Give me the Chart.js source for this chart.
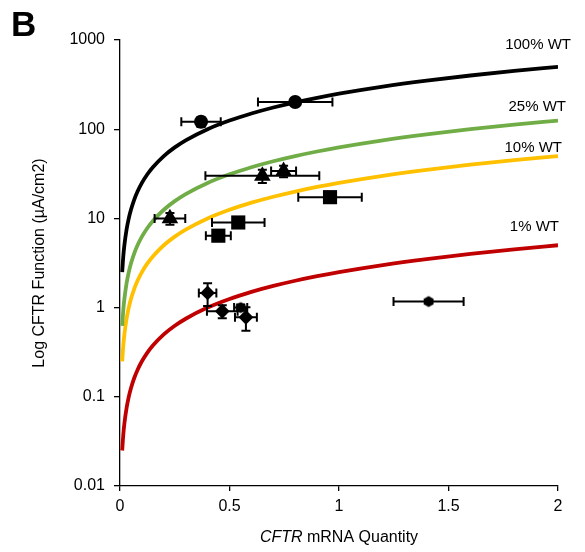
<!DOCTYPE html>
<html>
<head>
<meta charset="utf-8">
<script src="https://cdn.jsdelivr.net/npm/chart.js@4/dist/chart.umd.min.js"></script>
<style>
  html, body { margin: 0; padding: 0; background: #fff; }
  #wrap { width: 585px; height: 552px; }
</style>
</head>
<body>
<div id="wrap"><canvas id="c" width="585" height="552"></canvas></div>
<script>
// Measured groups: x = CFTR mRNA quantity, y = CFTR function (µA/cm2), with ± errors
const circleX = [0.37, 0.80];
const circleY = [121, 202];
const circleXErr = [0.09, 0.17];
const circleYErr = [15, 10];

const triangleX = [0.228, 0.65, 0.747];
const triangleY = [10.0, 30, 34];
const triangleXErr = [0.07, 0.26, 0.057];
const triangleYErr = [1.5, 5, 5];

const squareX = [0.959, 0.540, 0.449];
const squareY = [17.3, 9.0, 6.4];
const squareXErr = [0.145, 0.12, 0.057];
const squareYErr = [1.0, 0.6, 0.5];

const diamondX = [0.40, 0.467, 0.575];
const diamondY = [1.46, 0.91, 0.78];
const diamondXErr = [0.04, 0.07, 0.05];
const diamondYErr = [0.42, 0.15, 0.23];

const hexX = [0.551, 1.409];
const hexY = [1.0, 1.17];
const hexXErr = [0.03, 0.16];
const hexYErr = [0.08, 0.05];

// Reference lines: function proportional to mRNA, at a fraction of wild type
const wtFullSlope = 250;
const wtFractions = [1, 0.25, 0.1, 0.01];
const wtLabels = ['100% WT', '25% WT', '10% WT', '1% WT'];
const curveSampleX = [0.01, 0.015, 0.02, 0.03, 0.04, 0.05, 0.065, 0.08, 0.1, 0.125, 0.15,
  0.2, 0.25, 0.3, 0.4, 0.5, 0.6, 0.7, 0.8, 0.9, 1.0, 1.2, 1.4, 1.6, 1.8, 2.0];

// Axis ticks
const xTickValues = [0, 0.5, 1, 1.5, 2];
const xTickLabels = ['0', '0.5', '1', '1.5', '2'];
const yTickValues = [0.01, 0.1, 1, 10, 100, 1000];
const yTickLabels = ['0.01', '0.1', '1', '10', '100', '1000'];

const FONT = '"Liberation Sans", Arial, sans-serif';
const curveColors = ['#000000', '#70AD47', '#FFC000', '#C00000'];
// label anchor offsets from each line's right end (px)
const labelOffsets = [[13, -22], [8, -14], [4, -8], [1, -18]];

function pts(xs, ys) { return xs.map((x, i) => ({ x: x, y: ys[i] })); }

// small filled hexagon marker
function hexMarker(r) {
  const cv = document.createElement('canvas');
  const s = Math.ceil(r * 2 + 2);
  cv.width = s; cv.height = s;
  const g = cv.getContext('2d');
  g.fillStyle = '#000';
  g.beginPath();
  for (let k = 0; k < 6; k++) {
    const a = Math.PI / 6 + k * Math.PI / 3;
    const px = s / 2 + r * Math.cos(a), py = s / 2 + r * Math.sin(a);
    if (k === 0) g.moveTo(px, py); else g.lineTo(px, py);
  }
  g.closePath();
  g.fill();
  return cv;
}

function markerSet(xs, ys, xe, ye, style, radius) {
  return {
    type: 'scatter',
    data: pts(xs, ys),
    errX: xe, errY: ye,
    pointStyle: style,
    pointRadius: radius,
    pointHoverRadius: radius,
    backgroundColor: '#000',
    borderColor: '#000',
    borderWidth: 0,
    showLine: false
  };
}

const markerSets = [
  markerSet(circleX, circleY, circleXErr, circleYErr, 'circle', 7),
  markerSet(triangleX, triangleY, triangleXErr, triangleYErr, 'triangle', 9.6),
  markerSet(squareX, squareY, squareXErr, squareYErr, 'rect', 10),
  markerSet(diamondX, diamondY, diamondXErr, diamondYErr, 'rectRot', 7.4),
  markerSet(hexX, hexY, hexXErr, hexYErr, hexMarker(5.6), 6)
];

const curveSets = wtFractions.map((f, i) => ({
  type: 'line',
  label: wtLabels[i],
  data: curveSampleX.map(x => ({ x: x, y: wtFullSlope * f * x })),
  borderColor: curveColors[i],
  borderWidth: 3.8,
  pointRadius: 0,
  cubicInterpolationMode: 'monotone',
  fill: false,
  labelOffset: labelOffsets[i]
}));

// error bars, drawn just under each marker set
const errorBars = {
  id: 'errorBars',
  beforeDatasetDraw(chart, args) {
    const ds = chart.data.datasets[args.index];
    if (!ds.errX) return;
    const xs = chart.scales.x, ys = chart.scales.y, ctx = chart.ctx;
    const cap = 4.5;
    ctx.save();
    ctx.strokeStyle = '#000';
    ctx.lineWidth = 2;
    ds.data.forEach((p, i) => {
      const px = xs.getPixelForValue(p.x), py = ys.getPixelForValue(p.y);
      const x0 = xs.getPixelForValue(p.x - ds.errX[i]);
      const x1 = xs.getPixelForValue(p.x + ds.errX[i]);
      const y0 = ys.getPixelForValue(p.y + ds.errY[i]);
      const y1 = ys.getPixelForValue(Math.max(p.y - ds.errY[i], 0.011));
      ctx.beginPath();
      ctx.moveTo(x0, py); ctx.lineTo(x1, py);
      ctx.moveTo(x0, py - cap); ctx.lineTo(x0, py + cap);
      ctx.moveTo(x1, py - cap); ctx.lineTo(x1, py + cap);
      ctx.moveTo(px, y0); ctx.lineTo(px, y1);
      ctx.moveTo(px - cap, y0); ctx.lineTo(px + cap, y0);
      ctx.moveTo(px - cap, y1); ctx.lineTo(px + cap, y1);
      ctx.stroke();
    });
    ctx.restore();
  }
};

// line labels, axis titles and panel letter
const annotations = {
  id: 'annotations',
  afterDraw(chart) {
    const ctx = chart.ctx, xs = chart.scales.x, ys = chart.scales.y, area = chart.chartArea;
    ctx.save();
    ctx.fillStyle = '#000';
    ctx.textBaseline = 'middle';

    ctx.font = '15px ' + FONT;
    ctx.textAlign = 'right';
    chart.data.datasets.forEach(ds => {
      if (!ds.labelOffset) return;
      const last = ds.data[ds.data.length - 1];
      const px = xs.getPixelForValue(last.x) + ds.labelOffset[0];
      const py = ys.getPixelForValue(last.y) + ds.labelOffset[1];
      ctx.fillText(ds.label, px, py);
    });

    // y axis title
    ctx.save();
    ctx.translate(40, (area.top + area.bottom) / 2);
    ctx.rotate(-Math.PI / 2);
    ctx.textAlign = 'center';
    ctx.font = '16px ' + FONT;
    ctx.fillText('Log CFTR Function (µA/cm2)', 0, 0);
    ctx.restore();

    // x axis title: gene name in italics
    const part1 = 'CFTR', part2 = ' mRNA Quantity';
    ctx.font = 'italic 16px ' + FONT;
    const w1 = ctx.measureText(part1).width;
    ctx.font = '16px ' + FONT;
    const w2 = ctx.measureText(part2).width;
    const cx = (area.left + area.right) / 2;
    let sx = cx - (w1 + w2) / 2;
    ctx.textAlign = 'left';
    ctx.font = 'italic 16px ' + FONT;
    ctx.fillText(part1, sx, 538);
    ctx.font = '16px ' + FONT;
    ctx.fillText(part2, sx + w1, 538);

    // panel letter
    ctx.font = 'bold 35px ' + FONT;
    ctx.textAlign = 'left';
    ctx.fillText('B', 11, 26);
    ctx.restore();
  }
};

new Chart(document.getElementById('c'), {
  data: { datasets: markerSets.concat(curveSets) },
  options: {
    responsive: false,
    animation: false,
    layout: { padding: { top: 40, right: 27, left: 0, bottom: 0 } },
    plugins: { legend: { display: false }, tooltip: { enabled: false } },
    scales: {
      x: {
        type: 'linear',
        min: 0, max: 2,
        afterFit(scale) { scale.height = 66; },
        afterBuildTicks(scale) { scale.ticks = xTickValues.map(v => ({ value: v })); },
        ticks: {
          color: '#000',
          font: { family: FONT, size: 16 },
          padding: 6,
          maxRotation: 0,
          callback: (v) => { const i = xTickValues.indexOf(v); return i >= 0 ? xTickLabels[i] : ''; }
        },
        grid: { display: true, drawOnChartArea: false, drawTicks: true, tickLength: 5, color: '#000', lineWidth: 1.3 },
        border: { display: true, color: '#000', width: 1.3 }
      },
      y: {
        type: 'logarithmic',
        min: 0.01, max: 1000,
        afterFit(scale) { scale.width = 120; },
        afterBuildTicks(scale) { scale.ticks = yTickValues.map(v => ({ value: v })); },
        ticks: {
          color: '#000',
          font: { family: FONT, size: 16 },
          padding: 9,
          callback: (v) => { const i = yTickValues.indexOf(v); return i >= 0 ? yTickLabels[i] : ''; }
        },
        grid: { display: true, drawOnChartArea: false, drawTicks: true, tickLength: 6, color: '#000', lineWidth: 1.3 },
        border: { display: true, color: '#000', width: 1.3 }
      }
    }
  },
  plugins: [errorBars, annotations]
});
</script>
</body>
</html>
